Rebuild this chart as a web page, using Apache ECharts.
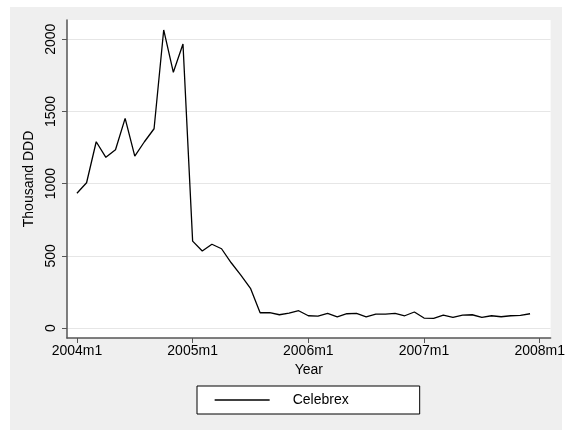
<!DOCTYPE html>
<html>
<head>
<meta charset="utf-8">
<script src="https://cdn.jsdelivr.net/npm/echarts@6/dist/echarts.min.js"></script>
<style>
html,body{margin:0;padding:0;background:#fff;}
#c{width:568px;height:430px;}
</style>
</head>
<body>
<div id="c"></div>
<script>
// Monthly index: 0 = 2004m1 ... 47 = 2007m12
var months = [
  0,1,2,3,4,5,6,7,8,9,10,11,
  12,13,14,15,16,17,18,19,20,21,22,23,
  24,25,26,27,28,29,30,31,32,33,34,35,
  36,37,38,39,40,41,42,43,44,45,46,47
];
var celebrex = [
  933,1006,1290,1182,1235,1452,1191,1290,1380,2064,1771,1967,
  602,533,580,549,452,367,275,106,106,92,104,120,
  85,83,101,78,99,101,78,96,96,101,85,111,
  69,67,90,74,90,92,74,85,78,85,87,99
];
var xTickValues = [0,12,24,36,48];
var xTickLabels = ['2004m1','2005m1','2006m1','2007m1','2008m1'];
var yTickValues = [0,500,1000,1500,2000];
var seriesName = 'Celebrex';
var xTitle = 'Year';
var yTitle = 'Thousand DDD';

var font = 'Liberation Sans, Arial, Helvetica, sans-serif';
var axisColor = '#555555';

var chart = echarts.init(document.getElementById('c'), null, {renderer:'canvas'});
chart.setOption({
  animation: false,
  backgroundColor: '#ffffff',
  graphic: [{
    type: 'rect', z: -100, silent: true,
    shape: {x: 10, y: 7, width: 552, height: 423},
    style: {fill: '#efefef'}
  }],
  grid: {
    left: 67, top: 20, right: 15, bottom: 92,
    show: true, backgroundColor: '#ffffff', borderWidth: 0
  },
  legend: {
    left: 197, top: 386,
    padding: [7, 71, 7, 17],
    itemWidth: 55, itemHeight: 14,
    borderColor: '#000000', borderWidth: 1,
    backgroundColor: '#ffffff',
    textStyle: {fontFamily: font, fontSize: 14, color: '#000', padding: [0,0,0,18]},
    itemStyle: {color: 'rgba(0,0,0,0)', borderWidth: 0, opacity: 0},
    lineStyle: {color: '#000000', width: 1.3},
    data: [seriesName]
  },
  xAxis: {
    type: 'value',
    min: -1.03, max: 49.13,
    name: xTitle, nameLocation: 'middle', nameGap: 24,
    nameTextStyle: {fontFamily: font, fontSize: 14, color: '#000'},
    axisLine: {show: true, onZero: false, lineStyle: {color: axisColor, width: 1.5}},
    axisTick: {show: true, length: 5, customValues: xTickValues, lineStyle: {color: axisColor, width: 1}},
    axisLabel: {
      customValues: xTickValues, margin: 6,
      fontFamily: font, fontSize: 14, color: '#000',
      formatter: function (v) { var i = xTickValues.indexOf(Math.round(v)); return i >= 0 ? xTickLabels[i] : ''; }
    },
    splitLine: {show: false}
  },
  yAxis: {
    type: 'value',
    min: -69, max: 2133,
    name: yTitle, nameLocation: 'middle', nameGap: 27,
    nameTextStyle: {fontFamily: font, fontSize: 14, color: '#000'},
    axisLine: {show: true, onZero: false, lineStyle: {color: axisColor, width: 1.5}},
    axisTick: {show: true, length: 5, customValues: yTickValues, lineStyle: {color: axisColor, width: 1}},
    axisLabel: {
      customValues: yTickValues, margin: 9, rotate: 90,
      fontFamily: font, fontSize: 14, color: '#000',
      formatter: function (v) { return String(Math.round(v)); }
    },
    splitLine: {show: true, lineStyle: {color: '#e6e6e6', width: 1.2}}
  },
  series: [{
    name: seriesName,
    type: 'line',
    data: months.map(function (m, i) { return [m, celebrex[i]]; }),
    symbol: 'none',
    lineStyle: {color: '#000000', width: 1.3},
    itemStyle: {color: '#000000'}
  }]
});
</script>
</body>
</html>
